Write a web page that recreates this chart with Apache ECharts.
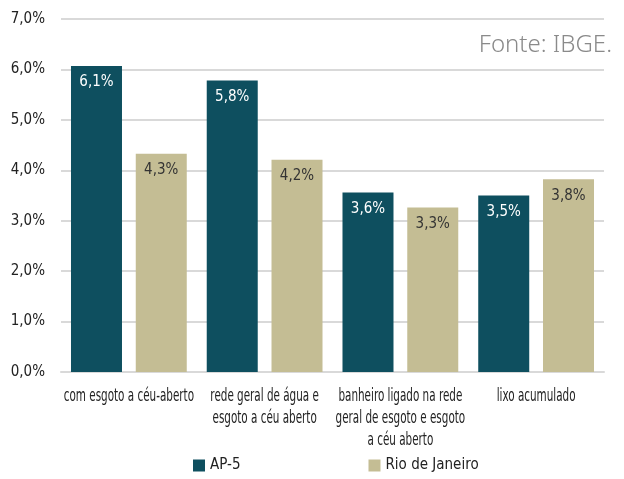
<!DOCTYPE html>
<html>
<head>
<meta charset="utf-8">
<script src="https://cdn.jsdelivr.net/npm/echarts@6/dist/echarts.min.js"></script>
<style>
  html, body { margin: 0; padding: 0; background: #fff; }
  #chart { width: 624px; height: 479px; }
</style>
</head>
<body>
<div id="chart"></div>
<script>
// categorias e valores (%)
const categories = [
  'com esgoto a céu-aberto',
  'rede geral de água e\nesgoto a céu aberto',
  'banheiro ligado na rede\ngeral de esgoto e esgoto\na céu aberto',
  'lixo acumulado'
]
const ap5 = [6.07, 5.78, 3.56, 3.5]
const rio = [4.33, 4.21, 3.26, 3.82]

const font = '"DejaVu Sans Condensed", sans-serif'
const fmt = (v) => v.toFixed(1).replace('.', ',') + '%'

const chart = echarts.init(document.getElementById('chart'))
chart.setOption({
  backgroundColor: '#fff',
  textStyle: { fontFamily: font },
  grid: { top: 19, bottom: 107, left: 61, right: 20 },
  legend: {
    bottom: 1,
    left: 188,
    itemGap: 128,
    itemWidth: 12,
    itemHeight: 12,
    icon: 'rect',
    textStyle: { fontFamily: font, fontSize: 15, color: '#222' },
    data: ['AP-5', 'Rio de Janeiro']
  },
  xAxis: {
    type: 'category',
    data: categories,
    axisLine: { lineStyle: { color: '#d9d9d9', width: 2 } },
    axisTick: { show: false },
    // rótulos desenhados abaixo como texto condensado
    axisLabel: { show: false }
  },
  yAxis: {
    type: 'value',
    min: 0,
    max: 7,
    interval: 1,
    axisLine: { show: false },
    axisTick: { show: false },
    splitLine: { lineStyle: { color: '#d9d9d9', width: 2 } },
    axisLabel: { fontFamily: font, fontSize: 15, color: '#222', margin: 16, formatter: fmt }
  },
  series: [
    {
      name: 'AP-5',
      type: 'bar',
      data: ap5,
      barWidth: 51,
      barGap: '27%',
      itemStyle: { color: '#0e4f5f' },
      label: {
        show: true,
        position: 'insideTop',
        distance: 9,
        color: '#fff',
        fontFamily: font,
        fontSize: 15,
        formatter: (p) => fmt(p.value)
      }
    },
    {
      name: 'Rio de Janeiro',
      type: 'bar',
      data: rio,
      barWidth: 51,
      itemStyle: { color: '#c4bd94' },
      label: {
        show: true,
        position: 'insideTop',
        distance: 9,
        color: '#333',
        fontFamily: font,
        fontSize: 15,
        formatter: (p) => fmt(p.value)
      }
    }
  ]
})

// rótulos do eixo x (fonte condensada) e fonte
const baseY = chart.convertToPixel({ yAxisIndex: 0 }, 0)
const labels = categories.map((c, i) => ({
  type: 'text',
  x: chart.convertToPixel({ xAxisIndex: 0 }, i),
  y: baseY + 14,
  scaleX: 0.68,
  style: {
    text: c,
    textAlign: 'center',
    textVerticalAlign: 'top',
    font: '17px "DejaVu Sans Condensed", sans-serif',
    lineHeight: 22,
    fill: '#222'
  }
}))
labels.push({
  type: 'text',
  right: 12,
  top: 33,
  style: { text: 'Fonte: IBGE.', fill: '#8a8a8a', font: '300 24px "Noto Sans", sans-serif' }
})
chart.setOption({ graphic: labels })
</script>
</body>
</html>
